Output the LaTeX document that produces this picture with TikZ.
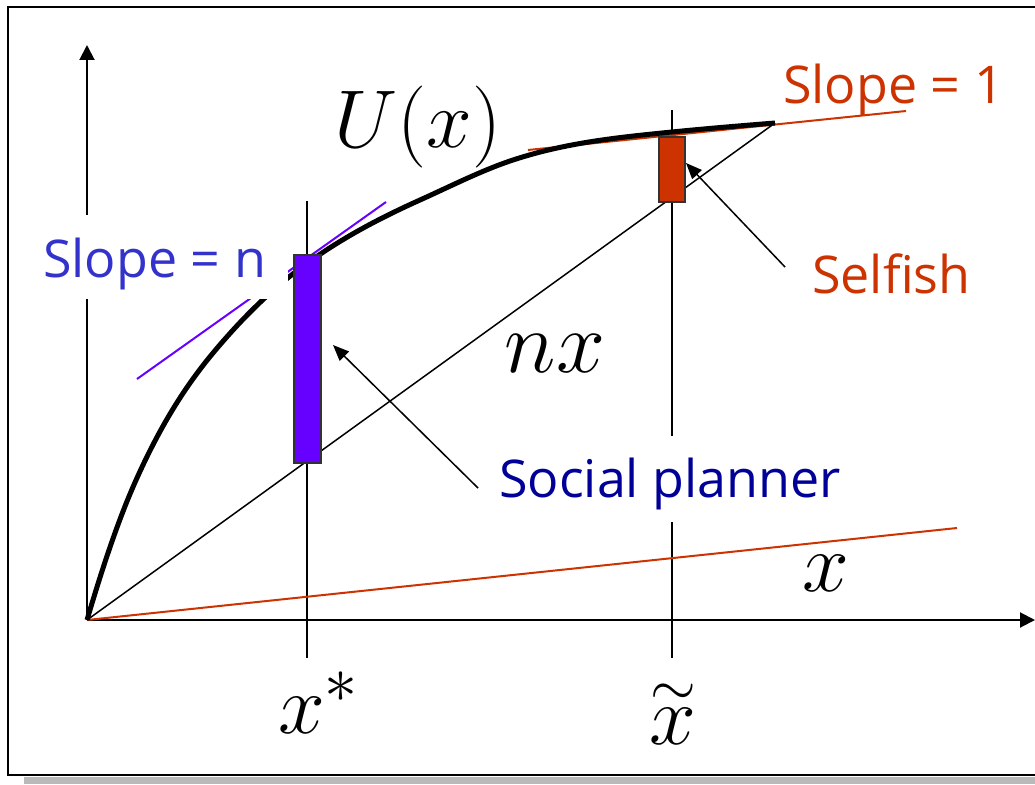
\RequirePackage{fix-cm}
\documentclass[tikz,border=0pt]{standalone}
\usepackage{fontspec}
\newfontfamily\lblfont{Open Sans}
\usetikzlibrary{arrows.meta}
\definecolor{rust}{HTML}{CC3300}
\definecolor{barviolet}{HTML}{6600FF}
\definecolor{slopeblue}{HTML}{3333CC}
\definecolor{plannernavy}{HTML}{000099}
\begin{document}
\begin{tikzpicture}[x=1pt,y=-1pt,
  lbl/.style={font=\lblfont\fontsize{52}{60}\selectfont, inner sep=0pt, anchor=base west},
  mathlbl/.style={font=\fontsize{84}{96}\selectfont, inner sep=0pt, anchor=base},
  axis/.style={line width=2pt, -{Triangle[length=15pt,width=15pt]}},
  pointer/.style={draw=black, line width=1.5pt, -{Triangle[length=16pt,width=13pt]}},
  guide/.style={line width=1.5pt},
  barbox/.style={draw=black!80, line width=1.5pt, inner sep=0pt}]
\useasboundingbox (0,0) rectangle (1035,784);
% frame and shadow
\fill[gray!55] (24,777) rectangle (1040,784);
\draw[line width=2pt] (8,7) rectangle (1045,775);
% coordinates
\coordinate (O) at (87,620);
\coordinate (ytop) at (87,45);
\coordinate (xend) at (1035,620);
\coordinate (Uend) at (775,123);
\coordinate (redend) at (957,528);
\coordinate (xs-top) at (307,201);
\coordinate (xs-bot) at (307,658);
\coordinate (xt-top) at (672,110);
\coordinate (xt-bot) at (672,658);
\coordinate (tn-a) at (137,379);
\coordinate (tn-b) at (386,202);
\coordinate (t1-a) at (528,150);
\coordinate (t1-b) at (906,111);
% guides
\draw[guide] (xs-top) -- (xs-bot);
\draw[guide] (xt-top) -- (xt-bot);
% axes
\draw[axis] (O) -- (ytop);
\draw[axis] (O) -- (xend);
% lines
\draw[rust, line width=2pt] (O) -- (redend);
\draw[line width=1.5pt] (O) -- (Uend);
% tangents
\draw[barviolet, line width=2pt] (tn-a) -- (tn-b);
\draw[rust, line width=2pt] (t1-a) -- (t1-b);
% curve U(x)
\draw[line width=5pt] (O)
  .. controls (102.33,567.9) and (117.67,522.3) .. (133,487)
  .. controls (159.67,425.7) and (186.33,385) .. (213,353)
  .. controls (244,315.8) and (275,286.3) .. (306,264)
  .. controls (344,236.6) and (382,217.1) .. (420,200)
  .. controls (451,186.05) and (482,170.2) .. (513,160)
  .. controls (566,142.5) and (619,137.3) .. (672,132)
  .. controls (706.33,128.57) and (740.67,125.75) .. (Uend);
% bars
\node[barbox, fill=barviolet, minimum width=27pt, minimum height=208pt] (planbar) at (307.5,359) {};
\node[barbox, fill=rust, minimum width=26pt, minimum height=65pt] (selfbar) at (672,169.5) {};
% white label backgrounds
\fill[white] (35,215) rectangle (288,299);
\fill[white] (488,436) rectangle (850,522);
% labels
\node[lbl, text=slopeblue] (slopen) at (43,277) {Slope = n};
\node[lbl, text=rust] (slope1) at (783,103) {Slope = 1};
\node[lbl, text=rust] (selfish) at (812,293) {Selfish};
\node[lbl, text=plannernavy] (planner) at (499,497) {Social planner};
\node[mathlbl, font=\fontsize{82}{96}\selectfont] (ulab) at (418,147) {$U(x)$};
\node[mathlbl, font=\fontsize{88}{100}\selectfont] (nxlab) at (555,372) {$nx$};
\node[mathlbl] (xlab) at (826,591) {$x$};
\node[mathlbl, anchor=base west] (xstar) at (278,733) {$x^{\mbox{\fontsize{66}{70}\selectfont$*$}}$};
\node[mathlbl] (xtilde) at (673,747) {$\stackrel{\sim}{x}$};
% pointers
\coordinate (sp-tail) at (478,488);
\coordinate (sp-tip) at (333,345);
\coordinate (sf-tail) at (785,267);
\coordinate (sf-tip) at (686,163);
\draw[pointer] (sp-tail) -- (sp-tip);
\draw[pointer] (sf-tail) -- (sf-tip);
\end{tikzpicture}
\end{document}
